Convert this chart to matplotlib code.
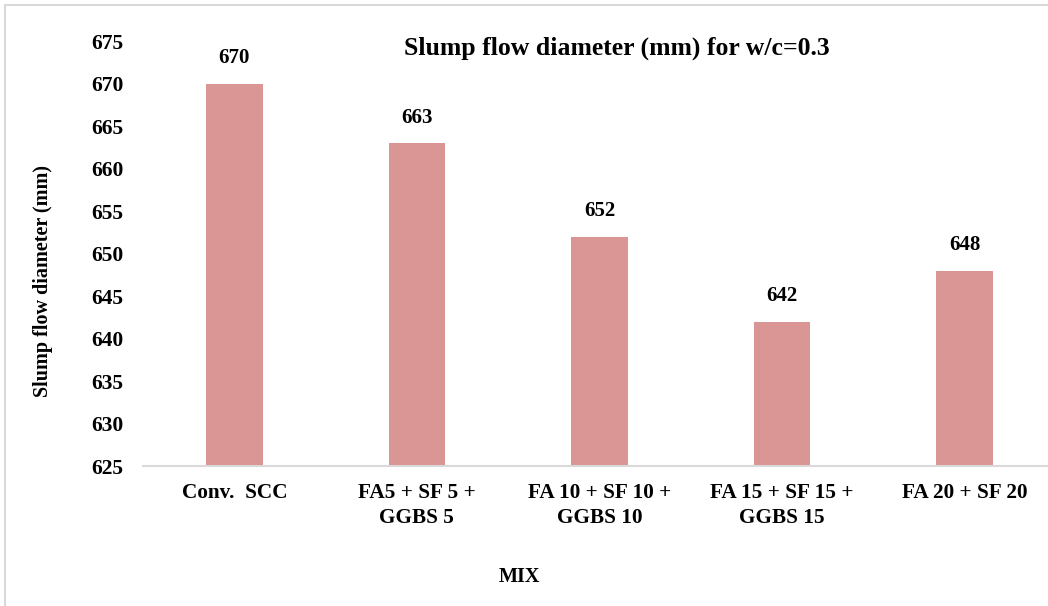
import matplotlib.pyplot as plt
from matplotlib.patches import Rectangle

# Slump flow data for w/c = 0.3
mixes = ['Conv.  SCC', 'FA5 + SF 5 +\nGGBS 5', 'FA 10 + SF 10 +\nGGBS 10',
         'FA 15 + SF 15 +\nGGBS 15', 'FA 20 + SF 20']
slump_flow = [670, 663, 652, 642, 648]
y_ticks = [625, 630, 635, 640, 645, 650, 655, 660, 665, 670, 675]

plt.rcParams['font.family'] = ['Liberation Serif', 'DejaVu Serif']
plt.rcParams['font.weight'] = 'bold'

fig = plt.figure(figsize=(10.48, 6.06), dpi=100)
ax = fig.add_axes([0.1365, 0.231, 0.871, 0.701])

x = range(len(mixes))
bars = ax.bar(x, slump_flow, width=0.31, color='#D99694')
ax.set_ylim(625, 675)
ax.set_xlim(-0.5, len(mixes) - 0.5)

for xi, v in zip(x, slump_flow):
    ax.text(xi, v + 3.0, str(v), ha='center', va='center', fontsize=15, fontweight='bold')

ax.set_yticks(y_ticks)
ax.set_yticklabels([str(t) for t in y_ticks], fontsize=15.5, fontweight='bold')
ax.set_xticks(list(x))
ax.set_xticklabels(mixes, fontsize=15.3, fontweight='bold', linespacing=1.35)
ax.tick_params(axis='both', length=0)
ax.tick_params(axis='y', pad=14)
ax.tick_params(axis='x', pad=12)

for side in ['top', 'right', 'left']:
    ax.spines[side].set_visible(False)
ax.spines['bottom'].set_color('#D9D9D9')
ax.spines['bottom'].set_linewidth(1.5)

fig.text(617 / 1048, 1 - 48 / 606, 'Slump flow diameter (mm) for w/c=0.3', ha='center', va='center',
         fontsize=18.5, fontweight='bold')
fig.text(43 / 1048, 1 - 281 / 606, 'Slump flow diameter (mm)', rotation=90, ha='center', va='center',
         fontsize=14.5, fontweight='bold')
fig.text(519 / 1048, 1 - 577 / 606, 'MIX', ha='center', va='center', fontsize=14.5, fontweight='bold')

# light outline around the chart area
fig.patches.append(Rectangle((5 / 1048, -0.05), 1.1, 1 - 5 / 606 + 0.05, transform=fig.transFigure,
                             fill=False, edgecolor='#D9D9D9', linewidth=1.5))

fig.savefig('out.png', dpi=100)
